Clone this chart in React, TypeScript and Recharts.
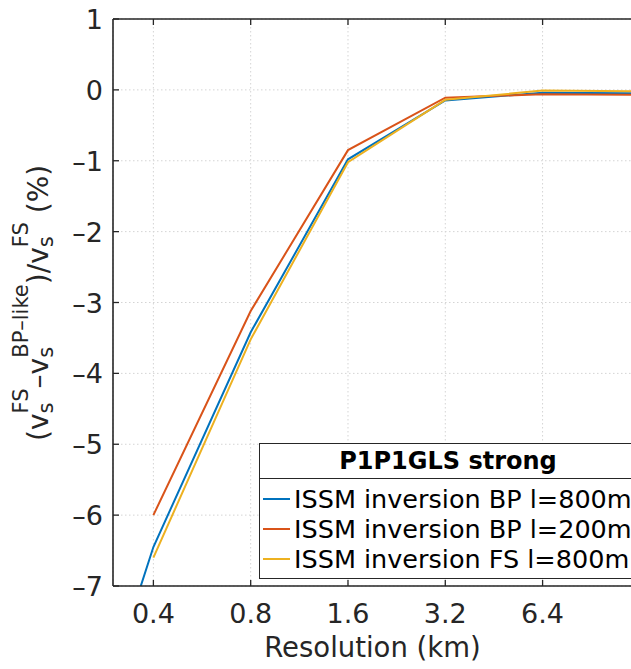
import React from "react";
import { LineChart, Line, XAxis, YAxis, CartesianGrid, ReferenceLine, Legend, Label } from "recharts";

const xValues = [0.2, 0.4, 0.8, 1.6, 3.2, 6.4, 12.8];
const bp800Values = [-10.7, -6.45, -3.42, -0.98, -0.15, -0.04, -0.05];
const bp200Values = [null, -6.0, -3.12, -0.85, -0.11, -0.06, -0.07];
const fs800Values = [null, -6.6, -3.52, -1.02, -0.14, -0.01, -0.02];
const xTicks = [0.4, 0.8, 1.6, 3.2, 6.4];
const yTicks = [-7, -6, -5, -4, -3, -2, -1, 0, 1];
const legendTitle = "P1P1GLS strong";
const seriesNames = ["ISSM inversion BP l=800m", "ISSM inversion BP l=200m", "ISSM inversion FS l=800m"];

const series = [
  { key: "bp800", name: seriesNames[0], color: "#0072BD", values: bp800Values },
  { key: "bp200", name: seriesNames[1], color: "#D95319", values: bp200Values },
  { key: "fs800", name: seriesNames[2], color: "#EDB120", values: fs800Values },
];

const data = xValues.map((x, i) => {
  const row: any = { x };
  series.forEach((s) => (row[s.key] = s.values[i]));
  return row;
});

const AXIS = "#262626";
const FONT = "DejaVu Sans";
const PLOT_TOP = 19;
const PLOT_BOTTOM = 586;
const PLOT_LEFT = 113;

const fmt = (v: number) => (v < 0 ? "\u2013" + Math.abs(v) : String(v));

const XTick = (props: any) => {
  const { x, payload } = props;
  return (
    <g>
      <line x1={x} x2={x} y1={PLOT_BOTTOM} y2={PLOT_BOTTOM - 6} stroke={AXIS} strokeWidth={1.3} />
      <line x1={x} x2={x} y1={PLOT_TOP} y2={PLOT_TOP + 6} stroke={AXIS} strokeWidth={1.3} />
      <text x={x} y={623} textAnchor="middle" fontSize={27} fill={AXIS} fontFamily={FONT}>
        {String(payload.value)}
      </text>
    </g>
  );
};

const YTick = (props: any) => {
  const { y, payload } = props;
  return (
    <g>
      <line x1={PLOT_LEFT} x2={PLOT_LEFT + 6} y1={y} y2={y} stroke={AXIS} strokeWidth={1.3} />
      <text x={103} y={y + 10} textAnchor="end" fontSize={27} fill={AXIS} fontFamily={FONT}>
        {fmt(payload.value)}
      </text>
    </g>
  );
};

const SS = 21;
const SW = 10.9;

const YLabelContent = () => (
  <text transform="translate(48,441) rotate(-90)" fontSize={28} fill={AXIS} fontFamily={FONT}>
    <tspan>(v</tspan>
    <tspan fontSize={SS} dy={5}>s</tspan>
    <tspan fontSize={SS} dx={-SW} dy={-25}>FS</tspan>
    <tspan dy={20}>{"\u2013v"}</tspan>
    <tspan fontSize={SS} dy={5}>s</tspan>
    <tspan fontSize={SS} dx={-SW} dy={-25}>{"BP\u2013like"}</tspan>
    <tspan dy={20}>)/v</tspan>
    <tspan fontSize={SS} dy={5}>s</tspan>
    <tspan fontSize={SS} dx={-SW} dy={-25}>FS</tspan>
    <tspan dy={20}>{" (%)"}</tspan>
  </text>
);

const XLabelContent = (props: any) => {
  const vb = props.viewBox || {};
  return (
    <text x={vb.x + vb.width / 2} y={657} textAnchor="middle" fontSize={27.5} fill={AXIS} fontFamily={FONT}>
      Resolution (km)
    </text>
  );
};

const LegendBox = () => (
  <div
    style={{
      border: `1.5px solid ${AXIS}`,
      background: "#fff",
      width: 380,
      boxSizing: "border-box",
      fontFamily: FONT,
      color: "#000",
    }}
  >
    <div
      style={{
        height: 34,
        borderBottom: `1.5px solid ${AXIS}`,
        fontWeight: "bold",
        fontSize: 24,
        lineHeight: "34px",
        textAlign: "center",
        width: 376,
      }}
    >
      {legendTitle}
    </div>
    <div style={{ paddingTop: 5, paddingBottom: 4 }}>
      {series.map((s) => (
        <div key={s.key} style={{ height: 30, display: "flex", alignItems: "center", whiteSpace: "nowrap" }}>
          <div style={{ width: 27, height: 2, background: s.color, marginLeft: 3, marginRight: 4 }} />
          <span style={{ fontSize: 25.5, lineHeight: "30px" }}>{s.name}</span>
        </div>
      ))}
    </div>
  </div>
);

export default function App() {
  return (
    <div
      style={{
        position: "absolute",
        left: 0,
        top: 0,
        width: 631,
        height: 669,
        overflow: "hidden",
        background: "#fff",
      }}
    >
      <LineChart width={633} height={669} data={data} margin={{ top: PLOT_TOP, right: 1, bottom: 0, left: 0 }}>
        <CartesianGrid stroke="#d4d4d4" strokeDasharray="1.5 2.5" strokeWidth={1} />
        <XAxis
          dataKey="x"
          type="number"
          scale="log"
          domain={[0.3, 12.1]}
          ticks={xTicks}
          allowDataOverflow
          height={83}
          tickLine={false}
          axisLine={{ stroke: AXIS, strokeWidth: 1.6 }}
          tick={<XTick />}
          interval={0}
        >
          <Label content={<XLabelContent />} />
        </XAxis>
        <YAxis
          type="number"
          domain={[-7, 1]}
          ticks={yTicks}
          allowDataOverflow
          width={113}
          tickLine={false}
          axisLine={{ stroke: AXIS, strokeWidth: 1.6 }}
          tick={<YTick />}
          interval={0}
        >
          <Label content={<YLabelContent />} />
        </YAxis>
        <ReferenceLine y={1} stroke={AXIS} strokeWidth={1.6} ifOverflow="visible" />
        {series.map((s) => (
          <Line
            key={s.key}
            dataKey={s.key}
            name={s.name}
            stroke={s.color}
            strokeWidth={2}
            dot={false}
            activeDot={false}
            isAnimationActive={false}
            connectNulls={false}
          />
        ))}
        <Legend
          layout="horizontal"
          verticalAlign="middle"
          align="center"
          content={<LegendBox />}
          wrapperStyle={{ left: 259, top: 443, width: 380, height: 136 }}
        />
      </LineChart>
    </div>
  );
}
